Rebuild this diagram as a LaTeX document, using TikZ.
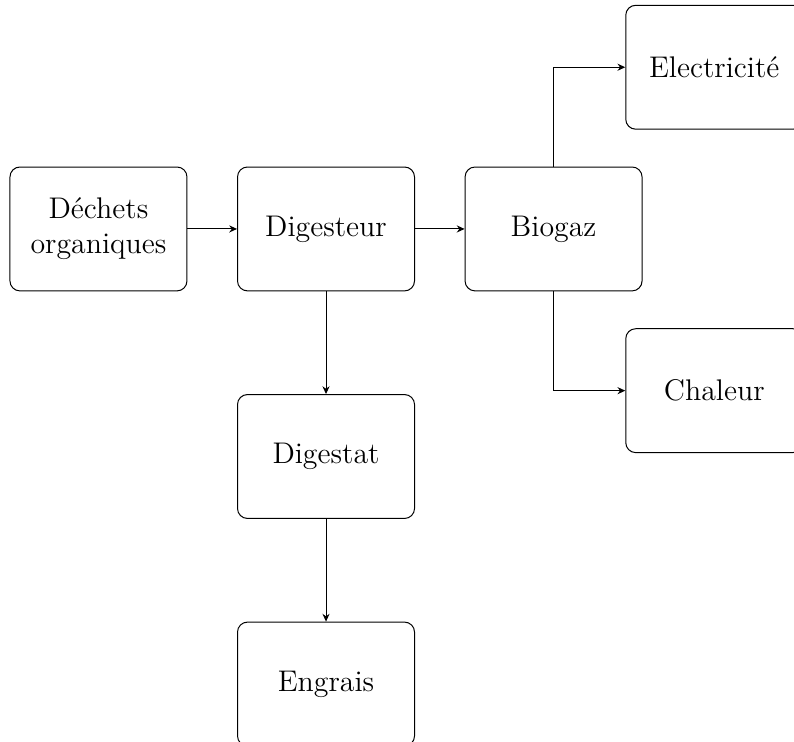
\documentclass[tikz,border=0pt]{standalone}
\usetikzlibrary{positioning,arrows.meta}
\tikzset{
  bloc/.style={draw, rounded corners, minimum width=2.5cm, minimum height=1.75cm, align=center, font=\large},
  fleche/.style={-{Stealth[length=1.1mm,width=1mm]}}
}
\begin{document}
\begin{tikzpicture}
  \useasboundingbox (-4.605,-7.246) rectangle (6.610,3.234);
  % chaine principale
  \node[bloc] (digesteur) at (0,0) {Digesteur};
  \node[bloc, left=0.7cm of digesteur] (dechets) {Déchets\\organiques};
  \node[bloc, right=0.7cm of digesteur] (biogaz) {Biogaz};
  \node[bloc, below=1.45cm of digesteur] (digestat) {Digestat};
  \node[bloc, below=1.45cm of digestat] (engrais) {Engrais};
  % valorisation du biogaz
  \node[bloc, above=0.52cm of biogaz, xshift=2.27cm] (elec) {Electricité};
  \node[bloc, below=0.52cm of biogaz, xshift=2.27cm] (chaleur) {Chaleur};
  \draw[fleche] (dechets) -- (digesteur);
  \draw[fleche] (digesteur) -- (biogaz);
  \draw[fleche] (digesteur) -- (digestat);
  \draw[fleche] (digestat) -- (engrais);
  \draw[fleche] (biogaz.north) |- (elec.west);
  \draw[fleche] (biogaz.south) |- (chaleur.west);
\end{tikzpicture}
\end{document}
